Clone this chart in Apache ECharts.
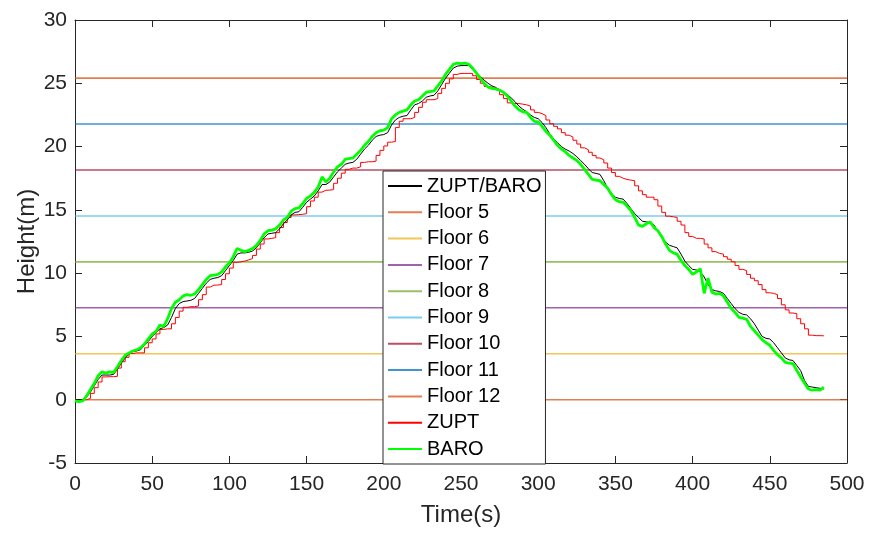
<!DOCTYPE html>
<html>
<head>
<meta charset="utf-8">
<script src="https://cdn.jsdelivr.net/npm/echarts@6/dist/echarts.min.js"></script>
<style>html,body{margin:0;padding:0;background:#fff;}#c{width:872px;height:533px;}</style>
</head>
<body>
<div id="c"></div>
<script>
const time = [
0,2.5,5,7.5,10,12.5,15,17.5,20,22.5,25,27.5,30,32.5,35,37.5,40,42.5,45,47.5,
50,52.5,55,57.5,60,62.5,65,67.5,70,72.5,75,77.5,80,82.5,85,87.5,90,92.5,95,97.5,
100,102.5,105,107.5,110,112.5,115,117.5,120,122.5,125,127.5,130,132.5,135,137.5,140,142.5,145,147.5,
150,152.5,155,157.5,160,162.5,165,167.5,170,172.5,175,177.5,180,182.5,185,187.5,190,192.5,195,197.5,
200,202.5,205,207.5,210,212.5,215,217.5,220,222.5,225,227.5,230,232.5,235,237.5,240,242.5,245,247.5,
250,252.5,255,257.5,260,262.5,265,267.5,270,272.5,275,277.5,280,282.5,285,287.5,290,292.5,295,297.5,
300,302.5,305,307.5,310,312.5,315,317.5,320,322.5,325,327.5,330,332.5,335,337.5,340,342.5,345,347.5,
350,352.5,355,357.5,360,362.5,365,367.5,370,372.5,375,377.5,380,382.5,385,387.5,390,392.5,395,397.5,
400,402.5,405,407.5,410,412.5,415,417.5,420,422.5,425,427.5,430,432.5,435,437.5,440,442.5,445,447.5,
450,452.5,455,457.5,460,462.5,465,467.5,470,472.5,475,477.5,480,482.5,485
];
const baro = [
-0.1,-0.15,-0.1,0.3,0.8,1.3,1.9,2.2,2.1,2.2,2.15,2.6,3.1,3.5,3.7,3.85,3.95,4.1,4.4,4.8,
5.2,5.4,5.9,5.8,6.4,7.2,7.7,7.9,8.2,8.3,8.25,8.35,8.7,9.1,9.5,9.8,9.85,9.9,10.1,10.5,
10.8,11.3,11.95,11.8,11.7,11.8,11.95,12.2,12.6,13.1,13.35,13.4,13.5,13.8,14.2,14.4,14.9,15.1,15.15,15.5,
15.9,16.1,16.4,16.8,17.6,17.2,17.5,18.0,18.4,18.6,19.0,19.05,19.1,19.4,19.7,20.1,20.4,20.8,21.1,21.25,
21.3,21.5,22.2,22.5,22.7,22.8,22.9,23.3,23.6,23.7,24.0,24.3,24.35,24.4,24.8,25.2,25.7,26.1,26.5,26.6,
26.55,26.6,26.5,26.2,25.8,25.4,25.0,24.7,24.6,24.55,24.45,24.3,24.0,23.6,23.2,22.9,22.75,22.7,22.3,22.0,
21.95,21.6,21.2,20.9,20.5,20.1,19.8,19.6,19.3,19.1,18.9,18.6,18.2,17.8,17.4,17.35,17.3,17.0,16.7,16.2,
15.8,15.65,15.6,15.3,14.95,14.4,13.8,13.7,13.9,14.05,13.6,13.35,12.9,12.3,11.8,11.6,11.5,11.0,10.6,10.3,
9.9,10.1,10.35,8.4,9.6,8.5,8.35,8.4,8.2,7.7,7.2,6.9,6.5,6.45,6.35,5.8,5.45,5.1,4.75,4.5,
4.3,3.9,3.55,3.3,2.95,2.9,2.85,2.3,1.8,1.3,0.85,0.75,0.8,0.75,1.0
];
const fused = [
0,0,0,0.2,0.6,1.1,1.6,1.95,1.95,1.95,2.0,2.4,2.9,3.3,3.6,3.8,3.85,3.95,4.3,4.6,
5.0,5.3,5.6,5.7,5.9,6.5,7.2,7.6,7.75,7.8,7.85,8.0,8.4,8.8,9.2,9.5,9.6,9.65,9.8,10.2,
10.6,11.0,11.5,11.6,11.6,11.65,11.75,12.0,12.4,12.8,13.1,13.15,13.2,13.5,13.9,14.2,14.6,14.8,14.85,15.2,
15.6,15.85,16.1,16.5,17.0,17.0,17.2,17.6,18.0,18.3,18.6,18.7,18.75,19.0,19.4,19.8,20.1,20.5,20.8,20.9,
20.95,21.1,21.7,22.1,22.3,22.4,22.45,22.9,23.3,23.4,23.6,23.9,24.0,24.05,24.4,24.9,25.4,25.8,26.2,26.35,
26.4,26.4,26.4,26.1,25.85,25.55,25.25,25.0,24.8,24.65,24.5,24.3,24.1,23.85,23.55,23.2,22.95,22.75,22.5,22.3,
22.2,21.9,21.5,21.0,20.6,20.3,20.0,19.8,19.65,19.45,19.2,18.9,18.6,18.25,17.95,17.88,17.8,17.3,16.7,16.3,
16.0,15.9,15.85,15.5,15.1,14.7,14.4,14.1,14.05,14.0,13.8,13.3,12.8,12.45,12.2,12.1,12.0,11.5,10.95,10.6,
10.3,10.25,10.1,9.7,9.1,8.7,8.6,8.55,8.4,8.0,7.6,7.2,6.9,6.75,6.7,6.4,6.0,5.5,5.0,4.85,
4.8,4.5,4.1,3.7,3.3,3.15,3.1,2.7,2.3,1.5,1.05,1.0,0.95,0.9,0.85
];
const zupt = [
0,0,0,0.1,0.5,0.95,1.4,1.8,1.82,1.82,1.85,2.5,3.0,3.35,3.65,3.7,3.7,3.7,4.1,4.5,
4.8,5.2,5.55,5.6,5.6,6.0,6.5,7.0,7.3,7.35,7.35,7.4,7.9,8.3,8.9,9.05,9.06,9.1,9.5,9.95,
10.4,10.85,10.9,10.95,11.05,11.15,11.4,11.9,12.3,12.7,12.75,12.8,13.2,13.6,14.0,14.4,14.6,14.62,14.65,14.7,
15.25,15.7,16.0,16.4,16.55,16.56,16.6,17.1,17.5,17.9,18.2,18.3,18.3,18.4,18.75,18.8,18.8,18.85,19.3,19.7,
20.05,20.35,20.4,21.5,22.0,22.2,22.2,22.3,22.7,23.1,23.5,23.7,23.7,23.8,24.2,24.6,25.0,25.35,25.7,25.78,
25.78,25.78,25.78,25.6,25.3,25.0,24.75,24.7,24.7,24.5,24.1,23.8,23.45,23.4,23.4,23.35,23.3,23.2,22.9,22.7,
22.6,22.45,22.1,21.8,21.6,21.4,21.1,20.9,20.75,20.5,20.2,19.9,19.75,19.55,19.3,19.1,18.95,18.7,18.3,17.95,
17.65,17.5,17.4,17.35,17.3,16.9,16.5,16.2,16.0,16.0,15.8,15.3,14.8,14.5,14.45,14.4,14.1,13.8,13.2,12.9,
12.75,12.75,12.7,12.3,12.0,11.7,11.56,11.5,11.3,11.1,10.9,10.6,10.3,10.2,9.9,9.6,9.4,9.1,8.7,8.45,
8.4,8.3,8.0,7.5,7.1,6.85,6.8,6.4,6.0,5.6,5.1,5.06,5.06,5.05,5.05
];
const floorNames = ['Floor 5','Floor 6','Floor 7','Floor 8','Floor 9','Floor 10','Floor 11','Floor 12'];
const floorHeights = [0, 3.63, 7.26, 10.89, 14.52, 18.15, 21.78, 25.41];
const floorColors = ['#D95319','#EDB120','#7E2F8E','#77AC30','#4DBEEE','#A2142F','#0072BD','#D95319'];
const xTicks = [0, 500, 50];
const yTicks = [-5, 30, 5];

const FONT = 'Liberation Sans, Arial, Helvetica, sans-serif';
const zip = (t, v) => t.map((x, i) => [x, v[i]]);

const series = [];
series.push({name:'ZUPT/BARO', type:'line', data: zip(time, fused), symbol:'none', z:5,
  lineStyle:{color:'#000000', width:1}, itemStyle:{color:'#000000'}, animation:false});
floorNames.forEach((n, i) => {
  series.push({name:n, type:'line', data:[[xTicks[0], floorHeights[i]],[xTicks[1], floorHeights[i]]],
    symbol:'none', z:2, lineStyle:{color:floorColors[i], width:1.6, opacity:0.75},
    itemStyle:{color:floorColors[i]}, animation:false});
});
series.push({name:'ZUPT', type:'line', data: zip(time, zupt), symbol:'none', step:'end', z:4,
  lineStyle:{color:'#FF0000', width:1}, itemStyle:{color:'#FF0000'}, animation:false});
series.push({name:'BARO', type:'line', data: zip(time, baro), symbol:'none', z:6,
  lineStyle:{color:'#00FF00', width:2.8}, itemStyle:{color:'#00FF00'}, animation:false});

function axisCommon() {
  return {
    axisLine:{show:true, onZero:false, lineStyle:{color:'#262626', width:1}},
    axisTick:{show:true, inside:true, length:7, lineStyle:{color:'#262626'}},
    splitLine:{show:false}
  };
}

const chart = echarts.init(document.getElementById('c'), null, {renderer:'canvas'});
chart.setOption({
  backgroundColor:'#ffffff',
  animation:false,
  grid:{left:75, right:25, top:20, bottom:70, containLabel:false},
  xAxis:[
    Object.assign({type:'value', min:xTicks[0], max:xTicks[1], interval:xTicks[2], position:'bottom',
      name:'Time(s)', nameLocation:'middle', nameGap:40, nameMoveOverlap:false,
      nameTextStyle:{fontFamily:FONT, fontSize:24, color:'#262626'},
      axisLabel:{fontFamily:FONT, fontSize:21, color:'#262626', margin:11}}, axisCommon()),
    Object.assign({type:'value', min:xTicks[0], max:xTicks[1], interval:xTicks[2], position:'top',
      axisLabel:{show:false}}, axisCommon())
  ],
  yAxis:[
    Object.assign({type:'value', min:yTicks[0], max:yTicks[1], interval:yTicks[2], position:'left',
      name:'Height(m)', nameLocation:'middle', nameGap:36, nameRotate:90, nameMoveOverlap:false,
      nameTextStyle:{fontFamily:FONT, fontSize:24, color:'#262626'},
      axisLabel:{fontFamily:FONT, fontSize:21, color:'#262626', margin:8}}, axisCommon()),
    Object.assign({type:'value', min:yTicks[0], max:yTicks[1], interval:yTicks[2], position:'right',
      axisLabel:{show:false}}, axisCommon())
  ],
  legend:{
    orient:'vertical', left:383, top:171,
    data:['ZUPT/BARO'].concat(floorNames, ['ZUPT','BARO']),
    backgroundColor:'#ffffff', borderColor:'#262626', borderWidth:1, borderRadius:0,
    padding:[5, 4, 5, 4],
    itemWidth:34, itemHeight:20, itemGap:6.3,
    itemStyle:{opacity:0},
    textStyle:{fontFamily:FONT, fontSize:20, color:'#000000', lineHeight:20},
    selectedMode:false
  },
  series: series
});
</script>
</body>
</html>
